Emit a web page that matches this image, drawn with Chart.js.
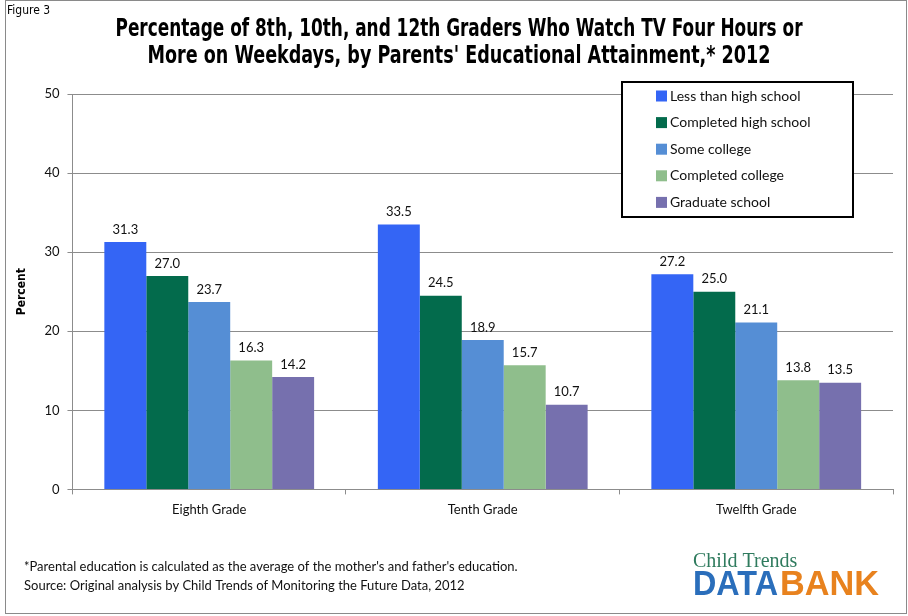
<!DOCTYPE html>
<html>
<head>
    <title>TV Watching by Parents' Education</title>
    <script src="https://cdn.jsdelivr.net/npm/chart.js"></script>
    <style>
      body {
    margin: 0;
    padding: 0;
    background-color: #ffffff;
}

#tvChart {
    display: block;
}
    </style>
</head>
<body>
  <canvas id="tvChart" width="908" height="616"></canvas>

  <script>
// Values
const grades = ['Eighth Grade', 'Tenth Grade', 'Twelfth Grade'];
const seriesNames = ['Less than high school', 'Completed high school', 'Some college', 'Completed college', 'Graduate school'];
const lessThanHighSchool = [31.3, 33.5, 27.2];
const completedHighSchool = [27.0, 24.5, 25.0];
const someCollege = [23.7, 18.9, 21.1];
const completedCollege = [16.3, 15.7, 13.8];
const graduateSchool = [14.2, 10.7, 13.5];
const yMin = 0;
const yMax = 50;
const yStep = 10;

const seriesColors = ['#3465f5', '#036b4c', '#558ed5', '#8fbe8c', '#7670ae'];
const gridGray = '#8c8c8c';
const bodyFont = 'Lato, "Liberation Sans", sans-serif';
const narrowFont = '"Liberation Sans Narrow", "DejaVu Sans Condensed", sans-serif';

// value labels above each bar
const valueLabels = {
    id: 'valueLabels',
    afterDatasetsDraw(chart) {
        const ctx = chart.ctx;
        ctx.save();
        ctx.font = '13px ' + bodyFont;
        ctx.fillStyle = '#111';
        ctx.textAlign = 'center';
        ctx.textBaseline = 'bottom';
        chart.data.datasets.forEach((ds, i) => {
            chart.getDatasetMeta(i).data.forEach((bar, j) => {
                ctx.fillText(ds.data[j].toFixed(1), bar.x, bar.y - 6);
            });
        });
        ctx.restore();
    }
};

// boxed legend inside the plot, top right
const boxLegend = {
    id: 'boxLegend',
    afterDatasetsDraw(chart) {
        const ctx = chart.ctx;
        const area = chart.chartArea;
        const left = area.right - 271, right = area.right - 40;
        const top = area.top - 12, bottom = area.top + 123;
        ctx.save();
        ctx.fillStyle = '#fff';
        ctx.fillRect(left, top, right - left, bottom - top);
        ctx.strokeStyle = '#000';
        ctx.lineWidth = 2;
        ctx.strokeRect(left, top, right - left, bottom - top);
        ctx.font = '14px ' + bodyFont;
        ctx.textBaseline = 'middle';
        chart.data.datasets.forEach((ds, i) => {
            const y = top + 14 + i * 26.6;
            ctx.fillStyle = ds.backgroundColor;
            ctx.fillRect(left + 34, y - 5.5, 11, 11);
            ctx.fillStyle = '#111';
            ctx.fillText(ds.label, left + 48, y);
        });
        ctx.restore();
    }
};

// title, footnotes, logo and frame
const decorations = {
    id: 'decorations',
    afterDraw(chart) {
        const ctx = chart.ctx;
        ctx.save();
        ctx.strokeStyle = '#8a8a8a';
        ctx.lineWidth = 1;
        ctx.strokeRect(5.5, 0.5, 901, 613);

        ctx.fillStyle = '#000';
        ctx.textBaseline = 'middle';
        ctx.textAlign = 'left';
        ctx.font = '12px ' + narrowFont;
        ctx.fillText('Figure 3', 7, 11, 48);

        ctx.textAlign = 'center';
        ctx.font = 'bold 24px ' + narrowFont;
        ctx.fillText('Percentage of 8th, 10th, and 12th Graders Who Watch TV Four Hours or', 459, 30, 687);
        ctx.fillText("More on Weekdays, by Parents' Educational Attainment,* 2012", 459, 57, 623);

        ctx.textAlign = 'left';
        ctx.font = '13px ' + bodyFont;
        ctx.fillStyle = '#111';
        ctx.fillText("*Parental education is calculated as the average of the mother's and father's education.", 24, 567, 522);
        ctx.fillText('Source: Original analysis by Child Trends of Monitoring the Future Data, 2012', 24, 586, 470);

        ctx.textBaseline = 'alphabetic';
        ctx.font = '20px "Liberation Serif", "DejaVu Serif", serif';
        ctx.fillStyle = '#2f7b5e';
        ctx.fillText('Child Trends', 693, 567, 108);
        ctx.font = 'bold 35px "Liberation Sans", sans-serif';
        ctx.fillStyle = '#2a6ebb';
        ctx.fillText('DATA', 693, 595, 85);
        ctx.fillStyle = '#e8821e';
        ctx.fillText('BANK', 780, 595, 99);
        ctx.restore();
    }
};

const ctx = document.getElementById('tvChart').getContext('2d');
const seriesValues = [lessThanHighSchool, completedHighSchool, someCollege, completedCollege, graduateSchool];

new Chart(ctx, {
    type: 'bar',
    data: {
        labels: grades,
        datasets: seriesNames.map((name, i) => ({
            label: name,
            data: seriesValues[i],
            backgroundColor: seriesColors[i],
            borderWidth: 0
        }))
    },
    options: {
        responsive: false,
        animation: false,
        layout: {
            padding: { top: 94, left: 7, right: 15, bottom: 90 }
        },
        datasets: {
            bar: {
                categoryPercentage: 0.767,
                barPercentage: 1.0
            }
        },
        scales: {
            x: {
                grid: {
                    drawOnChartArea: false,
                    drawTicks: true,
                    tickLength: 5,
                    color: gridGray
                },
                border: { display: true, color: gridGray },
                ticks: {
                    color: '#111',
                    padding: 8,
                    font: { family: bodyFont, size: 13 }
                }
            },
            y: {
                min: yMin,
                max: yMax,
                grid: {
                    color: gridGray,
                    tickLength: 5
                },
                border: { display: true, color: gridGray },
                ticks: {
                    stepSize: yStep,
                    color: '#111',
                    padding: 8,
                    font: { family: bodyFont, size: 13 }
                },
                title: {
                    display: true,
                    text: 'Percent',
                    color: '#000',
                    padding: { top: 8, bottom: 7 },
                    font: { family: narrowFont, size: 12, weight: 'bold' }
                }
            }
        },
        plugins: {
            legend: { display: false },
            title: { display: false },
            tooltip: { enabled: false }
        }
    },
    plugins: [valueLabels, boxLegend, decorations]
});
  </script>
</body>
</html>
